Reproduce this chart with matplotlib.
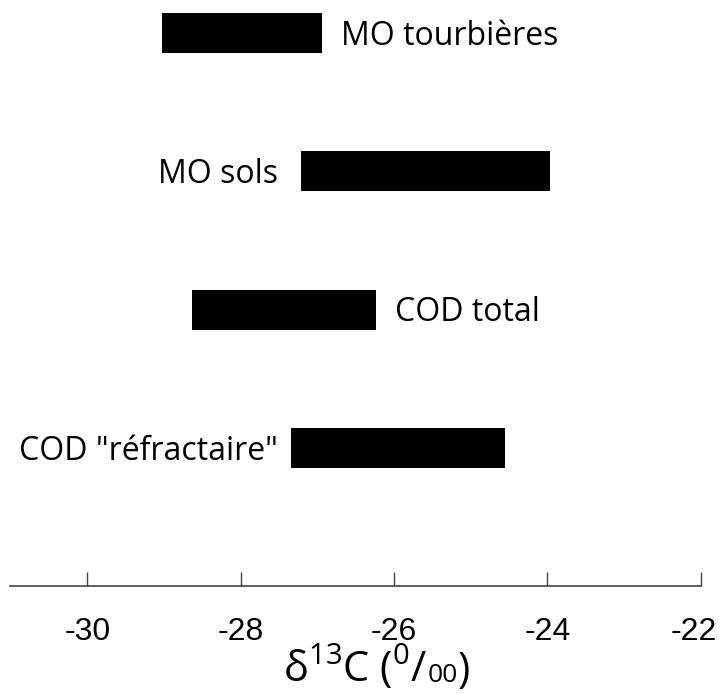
import matplotlib
matplotlib.use('Agg')
import matplotlib.pyplot as plt
from matplotlib.transforms import ScaledTranslation

# delta 13C ranges (permil)
labels = ['MO tourbières', 'MO sols', 'COD total', 'COD "réfractaire"']
starts = [-29.03, -27.22, -28.63, -27.35]
ends = [-26.94, -23.97, -26.24, -24.55]
ypos = [4, 3, 2, 1]
sides = ['right', 'left', 'right', 'left']
ticks = [-30, -28, -26, -24, -22]
tick_labels = ['-30', '-28', '-26', '-24', '-22']

plt.rcParams['mathtext.fontset'] = 'custom'
plt.rcParams['mathtext.rm'] = 'Open Sans'
plt.rcParams['mathtext.it'] = 'Open Sans'

fig = plt.figure(figsize=(7.2, 6.94), dpi=100)
ax = fig.add_axes([10/720, (694-586)/694, 690.7/720, 586/694])

widths = [e - s for s, e in zip(starts, ends)]
ax.barh(ypos, widths, left=starts, height=0.29, color='black')

# labels next to the bars
gaps = {'MO sols': -16, 'COD "réfractaire"': -9}
for lab, s, e, y, side in zip(labels, starts, ends, ypos, sides):
    if side == 'right':
        ax.annotate(lab, (e, y), xytext=(14, -8.5), textcoords='offset points',
                    ha='left', va='baseline', fontsize=23, family='Open Sans')
    else:
        ax.annotate(lab, (s, y), xytext=(gaps[lab], -8.5), textcoords='offset points',
                    ha='right', va='baseline', fontsize=23, family='Open Sans')

ax.set_xlim(-31.01, -22)
ax.set_ylim(0, 4.24)
for sp in ['left', 'right', 'top']:
    ax.spines[sp].set_visible(False)
ax.spines['bottom'].set_color('#444444')
ax.spines['bottom'].set_linewidth(1.2)
ax.set_yticks([])
ax.set_xticks(ticks)
ax.set_xticklabels(tick_labels, family='Liberation Sans')
ax.tick_params(axis='x', direction='in', length=10, width=1, color='#444444',
               labelsize=23, pad=22)
# keep the last label inside the figure
last = ax.get_xticklabels()[-1]
last.set_transform(last.get_transform() + ScaledTranslation(-7/100, 0, fig.dpi_scale_trans))

# x label: delta 13C (0/00), built in pieces on one baseline
base = 12/694
t1 = fig.text(283/720, base, 'δ$^{13}$C ($^{0}$/', ha='left', va='baseline',
              fontsize=30, family='Open Sans')
fig.canvas.draw()
x1 = t1.get_window_extent().x1
t2 = fig.text(x1/720, base, '00', ha='left', va='baseline',
              fontsize=19, family='Open Sans')
fig.canvas.draw()
x2 = t2.get_window_extent().x1
fig.text(x2/720, base, ')', ha='left', va='baseline',
         fontsize=30, family='Open Sans')

fig.savefig('out.png', dpi=100)
